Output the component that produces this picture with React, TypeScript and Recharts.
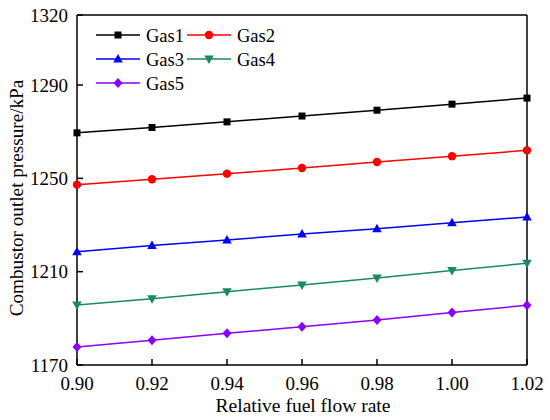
import { LineChart, Line, XAxis, YAxis, ReferenceLine, Label } from "recharts";

const flowRates = [0.9, 0.92, 0.94, 0.96, 0.98, 1.0, 1.02];
const gas1 = [1269.5, 1271.8, 1274.2, 1276.7, 1279.2, 1281.8, 1284.4];
const gas2 = [1247.3, 1249.6, 1252.0, 1254.4, 1257.0, 1259.5, 1262.0];
const gas3 = [1218.5, 1221.2, 1223.6, 1226.1, 1228.4, 1231.0, 1233.4];
const gas4 = [1195.7, 1198.4, 1201.4, 1204.3, 1207.3, 1210.5, 1213.6];
const gas5 = [1177.7, 1180.6, 1183.6, 1186.4, 1189.3, 1192.5, 1195.6];
const xTicks = [0.9, 0.92, 0.94, 0.96, 0.98, 1.0, 1.02];
const yTicks = [1170, 1210, 1250, 1290, 1320];

const data = flowRates.map((x, i) => ({
  x,
  gas1: gas1[i],
  gas2: gas2[i],
  gas3: gas3[i],
  gas4: gas4[i],
  gas5: gas5[i],
}));

const FONT = "Liberation Serif";

const series = [
  { key: "gas1", name: "Gas1", color: "#000000", shape: "square" },
  { key: "gas2", name: "Gas2", color: "#ff0000", shape: "circle" },
  { key: "gas3", name: "Gas3", color: "#0000ff", shape: "triangle" },
  { key: "gas4", name: "Gas4", color: "#1a8a60", shape: "triangleDown" },
  { key: "gas5", name: "Gas5", color: "#8a00ff", shape: "diamond" },
];

function Marker({ cx, cy, shape, color }) {
  if (cx == null || cy == null) return null;
  switch (shape) {
    case "square":
      return <rect x={cx - 3.5} y={cy - 3.5} width={7} height={7} fill={color} />;
    case "circle":
      return <circle cx={cx} cy={cy} r={4.2} fill={color} />;
    case "triangle":
      return <polygon points={`${cx},${cy - 5} ${cx - 4.8},${cy + 3.5} ${cx + 4.8},${cy + 3.5}`} fill={color} />;
    case "triangleDown":
      return <polygon points={`${cx},${cy + 5} ${cx - 4.8},${cy - 3.5} ${cx + 4.8},${cy - 3.5}`} fill={color} />;
    default:
      return <polygon points={`${cx},${cy - 5} ${cx + 4.5},${cy} ${cx},${cy + 5} ${cx - 4.5},${cy}`} fill={color} />;
  }
}

function YTick({ x, y, payload }) {
  return (
    <g>
      <line x1={x + 8} x2={x + 14} y1={y} y2={y} stroke="#000" strokeWidth={1.5} />
      <text x={x - 1} y={y} dy={6.5} textAnchor="end" fontSize={19} fontFamily={FONT} fill="#000">
        {payload.value}
      </text>
    </g>
  );
}

function XTick({ x, y, payload }) {
  return (
    <g>
      <line x1={x} x2={x} y1={y - 8} y2={y - 14} stroke="#000" strokeWidth={1.5} />
      <text x={x} y={y + 4} dy={13} textAnchor="middle" fontSize={19} fontFamily={FONT} fill="#000">
        {payload.value.toFixed(2)}
      </text>
    </g>
  );
}

function LegendBox() {
  return (
    <svg width={260} height={90} style={{ position: "absolute", left: 90, top: 20 }}>
      {series.map((s, i) => {
        const col = i % 2;
        const row = Math.floor(i / 2);
        const x0 = col === 0 ? 6 : 97;
        const y0 = 15 + row * 24;
        return (
          <g key={s.key}>
            <line x1={x0} x2={x0 + 44} y1={y0} y2={y0} stroke={s.color} strokeWidth={1.5} />
            <Marker cx={x0 + 22} cy={y0} shape={s.shape} color={s.color} />
            <text x={x0 + 50} y={y0} dy={6.5} fontSize={18.5} fontFamily={FONT} fill="#000">
              {s.name}
            </text>
          </g>
        );
      })}
    </svg>
  );
}

export default function App() {
  return (
    <div style={{ position: "absolute", left: 0, top: 0, width: 550, height: 420, background: "#fff" }}>
      <LineChart width={550} height={420} data={data} margin={{ top: 15, right: 23, left: 0, bottom: 0 }}>
        <XAxis
          dataKey="x"
          type="number"
          domain={[0.9, 1.02]}
          ticks={xTicks}
          tickLine={false}
          tick={<XTick />}
          height={55}
          axisLine={{ stroke: "#000", strokeWidth: 1.5 }}
        >
          <Label
            content={() => (
              <text x={303} y={412} textAnchor="middle" fontSize={19.5} fontFamily={FONT} fill="#000">
                Relative fuel flow rate
              </text>
            )}
          />
        </XAxis>
        <YAxis
          type="number"
          domain={[1170, 1320]}
          ticks={yTicks}
          tickLine={false}
          tick={<YTick />}
          width={77}
          axisLine={{ stroke: "#000", strokeWidth: 1.5 }}
        >
          <Label
            content={() => (
              <text
                x={23}
                y={198}
                transform="rotate(-90 23 198)"
                textAnchor="middle"
                fontSize={19.2}
                fontFamily={FONT}
                fill="#000"
              >
                Combustor outlet pressure/kPa
              </text>
            )}
          />
        </YAxis>
        <ReferenceLine y={1320} stroke="#000" strokeWidth={1.5} />
        <ReferenceLine x={1.02} stroke="#000" strokeWidth={1.5} />
        {series.map((s) => (
          <Line
            key={s.key}
            dataKey={s.key}
            name={s.name}
            stroke={s.color}
            strokeWidth={1.5}
            dot={(p) => <Marker key={`${s.key}-${p.index}`} cx={p.cx} cy={p.cy} shape={s.shape} color={s.color} />}
            isAnimationActive={false}
          />
        ))}
      </LineChart>
      <LegendBox />
    </div>
  );
}
